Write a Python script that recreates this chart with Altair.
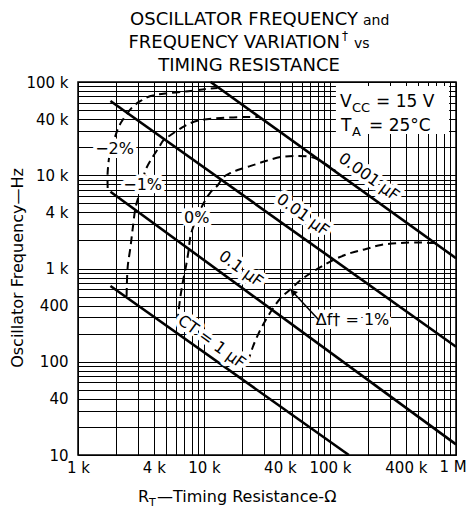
import altair as alt
import pandas as pd

FONT = "DejaVu Sans"

# ---------------- axes: grid values and labels ----------------
x_grid = [1000, 2000, 3000, 4000, 5000, 6000, 7000, 8000, 9000,
          10000, 20000, 30000, 40000, 50000, 60000, 70000, 80000, 90000,
          100000, 200000, 300000, 400000, 500000, 600000, 700000, 800000, 900000,
          1000000]
y_grid = [10, 20, 30, 40, 50, 60, 70, 80, 90,
          100, 200, 300, 400, 500, 600, 700, 800, 900,
          1000, 2000, 3000, 4000, 5000, 6000, 7000, 8000, 9000,
          10000, 20000, 30000, 40000, 50000, 60000, 70000, 80000, 90000,
          100000]
x_label_vals = [1000, 4000, 10000, 40000, 100000, 400000]
x_label_txt = ["1 k", "4 k", "10 k", "40 k", "100 k", "400 k"]
x_last_val = [1000000]
x_last_txt = ["1 M"]
y_label_vals = [10, 40, 100, 400, 1000, 4000, 10000, 40000, 100000]
y_label_txt = ["10", "40", "100", "400", "1 k", "4 k", "10 k", "40 k", "100 k"]

# ---------------- timing-capacitor lines (end points) ----------------
ct_names = ["0.001 µF", "0.01 µF", "0.1 µF", "1 µF"]
ct_r0 = [11300, 1810, 1810, 1810]
ct_f0 = [100000, 62600, 6660, 649]
ct_r1 = [1000000, 1000000, 1000000, 141000]
ct_f1 = [1290, 145, 13.0, 10.0]

# ---------------- frequency-variation contours (dashed) ----------------
m2_r = [1720, 1720, 1810, 1990, 2100, 2260, 2710, 3140, 3770, 5440, 7840, 10300, 12800]
m2_f = [7300, 10800, 18700, 27000, 32900, 39100, 53900, 62600, 70800, 76200, 80100, 84100, 86200]

m1_r = [2430, 2480, 2610, 2710, 2870, 3140, 3440, 3910, 4360, 4780, 5440, 6770, 7840,
        9420, 13600, 19600, 27200]
m1_f = [507, 1040, 1700, 2590, 4570, 6950, 11400, 15700, 19600, 23900, 27000, 32900, 36300,
        39100, 41100, 42100, 42100]

z_r = [6180, 6300, 6530, 6770, 7150, 7560, 7840, 8750, 9950, 11300, 12900, 14300, 16300,
       18500, 23500, 30900, 40700, 53600, 70500, 84700, 111000]
z_f = [267, 359, 520, 699, 1010, 1580, 2290, 3480, 5040, 6610, 7860, 9580, 10600,
       11400, 12600, 14200, 15700, 16100, 15700, 14200, 11100]

p1_r = [22300, 24400, 27200, 30900, 35800, 40700, 48900, 58700, 70500, 84700, 111000,
        147000, 193000, 254000, 366000, 528000, 670000]
p1_f = [99, 144, 203, 280, 386, 483, 603, 753, 895, 1040, 1270,
        1470, 1620, 1790, 1880, 1900, 1880]

# ---------------- annotations ----------------
pct_txt = ["−2%", "−1%", "0%"]
pct_r = [1950, 3260, 8750]
pct_f = [19100, 7860, 3480]

cap_txt = ["0.001 µF", "0.01 µF", "0.1 µF", "CT = 1 µF"]
cap_r = [203800, 60900, 19600, 11500]
cap_f = [9580, 3750, 988, 163]

df_txt = ["Δf† = 1%"]
df_r = [151000]
df_f = [280]

arrow_r = [81600, 50700]
arrow_f = [280, 560]

box_r = [111400, 881400]
box_f = [90600, 27700]


def lab_expr(vals, txts):
    parts = [f"datum.value=={v}?'{t}':" for v, t in zip(vals, txts)]
    return "".join(parts) + "''"


X = alt.X("R:Q", scale=alt.Scale(type="log", domain=[1000, 1000000], nice=False),
          axis=alt.Axis(values=x_grid, grid=True, gridColor="black", gridWidth=1,
                        gridOpacity=1, ticks=False, domain=False,
                        labelExpr=lab_expr(x_label_vals, x_label_txt),
                        labelFlush=False, labelOverlap=False, labelFont=FONT,
                        labelFontSize=15, labelColor="black", labelPadding=5,
                        title=None))
Y = alt.Y("f:Q", scale=alt.Scale(type="log", domain=[10, 100000], nice=False),
          axis=alt.Axis(values=y_grid, grid=True, gridColor="black", gridWidth=1,
                        gridOpacity=1, ticks=False, domain=False,
                        labelExpr=lab_expr(y_label_vals, y_label_txt),
                        labelFlush=False, labelOverlap=False, labelFont=FONT,
                        labelFontSize=15, labelColor="black", labelPadding=10,
                        title=None))

# data frames
ct_rows = []
for n, r0, f0, r1, f1 in zip(ct_names, ct_r0, ct_f0, ct_r1, ct_f1):
    ct_rows.append({"s": n, "R": r0, "f": f0, "o": 0})
    ct_rows.append({"s": n, "R": r1, "f": f1, "o": 1})
ct_df = pd.DataFrame(ct_rows)

cv_rows = []
for name, rs, fs in [("-2%", m2_r, m2_f), ("-1%", m1_r, m1_f), ("0%", z_r, z_f), ("+1%", p1_r, p1_f)]:
    for i, (r, f) in enumerate(zip(rs, fs)):
        cv_rows.append({"s": name, "R": r, "f": f, "o": i})
cv_df = pd.DataFrame(cv_rows)

ct_layer = alt.Chart(ct_df).mark_line(color="black", strokeWidth=2.6).encode(
    x=X, y=Y, detail="s:N", order="o:Q")

cv_layer = alt.Chart(cv_df).mark_line(color="black", strokeWidth=2, strokeDash=[8, 5],
                                      interpolate="catmull-rom").encode(
    x=X, y=Y, detail="s:N", order="o:Q")

box_df = pd.DataFrame({"R": [box_r[0]], "R2": [box_r[1]], "f": [box_f[0]], "f2": [box_f[1]]})
box_layer = alt.Chart(box_df).mark_rect(color="white").encode(
    x=X, x2="R2:Q", y=Y, y2="f2:Q")

pct_df = pd.DataFrame({"R": pct_r, "f": pct_f, "t": pct_txt})
cap_df = pd.DataFrame({"R": cap_r, "f": cap_f, "t": cap_txt})
dft_df = pd.DataFrame({"R": df_r, "f": df_f, "t": df_txt})


def labels(df, angle=0, size=16, align="center"):
    halo = alt.Chart(df).mark_text(font=FONT, fontSize=size, angle=angle, align=align,
                                   baseline="middle", fill="white", stroke="white",
                                   strokeWidth=8, strokeJoin="round").encode(
        x=X, y=Y, text="t:N")
    txt = alt.Chart(df).mark_text(font=FONT, fontSize=size, angle=angle, align=align,
                                  baseline="middle", color="black").encode(
        x=X, y=Y, text="t:N")
    return [halo, txt]


arrow_df = pd.DataFrame({"R": arrow_r, "f": arrow_f, "o": [0, 1]})
arrow_line = alt.Chart(arrow_df).mark_line(color="black", strokeWidth=1.5).encode(
    x=X, y=Y, order="o:Q")
arrow_head = alt.Chart(arrow_df.iloc[[1]]).mark_point(
    shape="triangle-up", filled=True, color="black", size=60, angle=318, opacity=1).encode(
    x=X, y=Y)

# last x tick label drawn as text at its tick value, nudged to stay on the page
last_df = pd.DataFrame({"R": x_last_val, "t": x_last_txt})
last_lab = alt.Chart(last_df).mark_text(font=FONT, fontSize=15, align="center",
                                        baseline="top", dx=-3, color="black").encode(
    x=X, y=alt.value(378), text="t:N")


def ptext(txt, x, y, size, align="left", angle=0, baseline="alphabetic"):
    return alt.Chart(pd.DataFrame({"t": [txt]})).mark_text(
        font=FONT, fontSize=size, align=align, baseline=baseline, angle=angle,
        color="black").encode(x=alt.value(x), y=alt.value(y), text="t:N")


# page coords -> plot coords (plot origin at page (78, 82))
titles = [
    ptext("OSCILLATOR FREQUENCY", 280, -57, 18, align="right"),
    ptext("and", 285, -57, 14),
    ptext("FREQUENCY VARIATION", 262, -34, 18, align="right"),
    ptext("†", 264, -42, 12),
    ptext("vs", 276, -34, 14),
    ptext("TIMING RESISTANCE", 171, -11, 18, align="center"),
    ptext("Oscillator Frequency—Hz", -60, 186, 16, align="center", angle=270,
          baseline="middle"),
    ptext("R", 60, 420, 16),
    ptext("T", 71, 424, 11),
    ptext("—Timing Resistance-Ω", 79, 420, 16),
    ptext("V", 262, 25, 17),
    ptext("CC", 274, 30, 13),
    ptext("= 15 V", 298, 25, 17),
    ptext("T", 263, 49, 17),
    ptext("A", 274, 54, 13),
    ptext("= 25°C", 291, 49, 17),
]

layers = [cv_layer, ct_layer, box_layer] + labels(pct_df) + labels(cap_df, angle=36) + \
    labels(dft_df) + [arrow_line, arrow_head, last_lab] + titles

chart = alt.layer(*layers).properties(
    width=378, height=373,
    autosize=alt.AutoSizeParams(type="none"),
    padding={"left": 70, "top": 74, "right": 10, "bottom": 56},
).configure_view(stroke="black", strokeWidth=1.5)

chart.save("out.html", embed_options={"renderer": "svg", "actions": False})
